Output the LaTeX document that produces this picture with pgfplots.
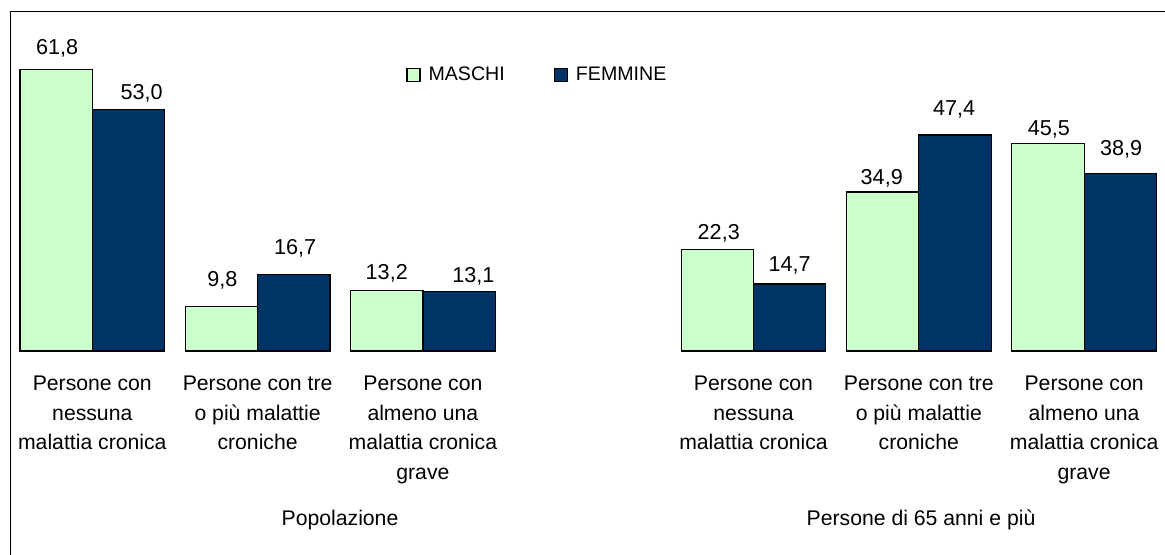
\documentclass[border=0pt]{standalone}
\usepackage{pgfplots}
\pgfplotsset{compat=1.18}
\usepackage{pgfplotstable}
\usepackage{fontspec}
\setmainfont{Liberation Sans}
\definecolor{mgreen}{HTML}{CCFFCC}
\definecolor{fblue}{HTML}{003366}

\pgfplotstableread{
x y dx dy
0 61.8 0.5 7.65
1 9.8 0.5 10
2 13.2 0 5.85
4 22.3 0.7 5.15
5 34.9 -0.45 3.85
6 45.5 0.45 4.15
}\maschi
\pgfplotstableread{
x y dx dy
0 53.0 6.6 5
1 16.7 0.65 10
2 13.1 7.15 4.35
4 14.7 0 6.15
5 47.4 -0.4 9.65
6 38.9 0.4 9.15
}\femmine

\begin{document}
\begin{tikzpicture}
\useasboundingbox (0,0) rectangle (582.5pt,277.5pt);
\fill[white] (0,0) rectangle (582.5pt,277.5pt);
\draw[line width=0.6pt] (5.35pt,0pt) -- (5.35pt,271.65pt) -- (583pt,271.65pt);
\begin{axis}[
  at={(4.825pt,102pt)}, anchor=south west,
  scale only axis,
  width=578.55pt, height=159.53pt,
  xmin=-0.5, xmax=6.5, ymin=0, ymax=70,
  axis line style={draw=none},
  tick style={draw=none},
  ytick=\empty,
  xtick={0,1,2,4,5,6},
  xticklabels={{Persone con\\nessuna\\malattia cronica},
               {Persone con tre\\o più malattie\\croniche},
               {Persone con\\almeno una\\malattia cronica\\grave},
               {Persone con\\nessuna\\malattia cronica},
               {Persone con tre\\o più malattie\\croniche},
               {Persone con\\almeno una\\malattia cronica\\grave}},
  xticklabel style={align=center, font=\fontsize{10.6}{14.75}\selectfont, anchor=north, inner sep=0pt, yshift=-8pt},
  ybar=0pt, bar width=36.15pt,
  clip=false,
  nodes near coords={\pgfmathprintnumber[fixed, fixed zerofill, precision=1, use comma, assume math mode=true]{\pgfplotspointmeta}},
  visualization depends on={\thisrow{dx} \as \dx},
  visualization depends on={\thisrow{dy} \as \dy},
  nodes near coords style={anchor=base, inner sep=0pt, font=\fontsize{10.8}{12}\selectfont, xshift=\dx pt, yshift=\dy pt, text=black},
  legend image code/.code={\draw[#1, line width=0.6pt] (0pt,-3.25pt) rectangle (6.5pt,3.25pt);},
  legend columns=2,
  legend style={at={(0.3425,0.865)}, anchor=west, draw=none, fill=none, inner sep=0pt,
    font=\fontsize{9.8}{11}\selectfont,
    nodes={inner sep=0pt},
    /tikz/every odd column/.append style={column sep=4pt},
    /tikz/every even column/.append style={column sep=24.5pt}},
]
\addplot[fill=mgreen, draw=black, line width=0.6pt, bar shift=-18.075pt] table[x=x, y=y] {\maschi};
\addlegendentry{MASCHI}
\addplot[fill=fblue, draw=black, line width=0.6pt, bar shift=18.075pt] table[x=x, y=y] {\femmine};
\addlegendentry{FEMMINE}
\end{axis}
\node[anchor=base, font=\fontsize{10.6}{12}\selectfont] at (170pt,14.8pt) {Popolazione};
\node[anchor=base, font=\fontsize{10.6}{12}\selectfont] at (460.5pt,14.8pt) {Persone di 65 anni e più};
\end{tikzpicture}
\end{document}
